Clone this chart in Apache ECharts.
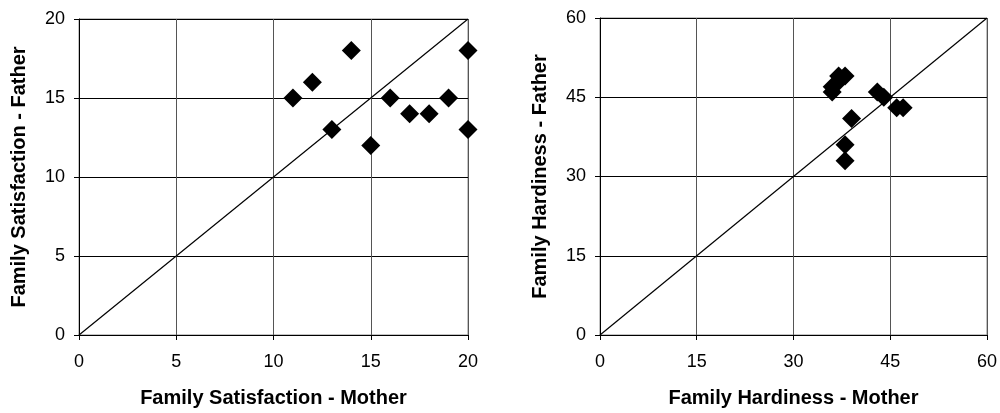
<!DOCTYPE html>
<html>
<head>
<meta charset="utf-8">
<script src="https://cdn.jsdelivr.net/npm/echarts@6/dist/echarts.min.js"></script>
<style>html,body{margin:0;padding:0;background:#fff}#c{width:1000px;height:413px}</style>
</head>
<body>
<div id="c"></div>
<script>
const satMother = [11, 12, 13, 14, 15, 16, 17, 18, 19, 20, 20];
const satFather = [15, 16, 13, 18, 12, 15, 14, 14, 15, 18, 13];
const hardMother = [36, 36, 37, 37, 38, 43, 44, 47, 46, 39, 38, 38];
const hardFather = [46, 47, 48, 49, 49, 46, 45, 43, 43, 41, 36, 33];
const satTicks = [0, 5, 10, 15, 20];
const hardTicks = [0, 15, 30, 45, 60];

const font = 'Liberation Sans, Arial, sans-serif';
function pairs(a, b) { return a.map((v, i) => [v, b[i]]); }

function xAxis(idx, max, interval, name) {
  return {
    gridIndex: idx, type: 'value', min: 0, max: max, interval: interval,
    name: name, nameLocation: 'middle', nameGap: 53,
    nameTextStyle: { fontFamily: font, fontSize: 20, fontWeight: 'bold', color: '#000' },
    axisLine: { show: true, lineStyle: { color: '#000', width: 1 } },
    axisTick: { show: true, inside: false, length: 5, lineStyle: { color: '#000' } },
    axisLabel: { fontFamily: font, fontSize: 18, color: '#000', margin: 18 },
    splitLine: { show: true, lineStyle: { color: '#555', width: 1 } }
  };
}
function yAxis(idx, max, interval, name) {
  return {
    gridIndex: idx, type: 'value', min: 0, max: max, interval: interval,
    name: name, nameLocation: 'middle', nameGap: 50, nameRotate: 90,
    nameTextStyle: { fontFamily: font, fontSize: 20, fontWeight: 'bold', color: '#000' },
    axisLine: { show: true, lineStyle: { color: '#000', width: 1 } },
    axisTick: { show: true, inside: false, length: 5, lineStyle: { color: '#000' } },
    axisLabel: { fontFamily: font, fontSize: 18, color: '#000', margin: 14 },
    splitLine: { show: true, lineStyle: { color: '#000', width: 1 } }
  };
}

const chart = echarts.init(document.getElementById('c'), null, { renderer: 'canvas' });
chart.setOption({
  animation: false,
  backgroundColor: '#fff',
  grid: [
    { left: 79, right: 532, top: 19, bottom: 76, show: true, borderColor: '#888', borderWidth: 1, backgroundColor: 'transparent' },
    { left: 600, right: 11, top: 18, bottom: 76, show: true, borderColor: '#888', borderWidth: 1, backgroundColor: 'transparent' }
  ],
  xAxis: [
    xAxis(0, 20, 5, 'Family Satisfaction - Mother'),
    xAxis(1, 60, 15, 'Family Hardiness - Mother')
  ],
  yAxis: [
    yAxis(0, 20, 5, 'Family Satisfaction - Father'),
    yAxis(1, 60, 15, 'Family Hardiness - Father')
  ],
  series: [
    { type: 'line', xAxisIndex: 0, yAxisIndex: 0, data: [[satTicks[0], satTicks[0]], [satTicks[4], satTicks[4]]],
      symbol: 'none', lineStyle: { color: '#000', width: 1.2 }, z: 2 },
    { type: 'line', xAxisIndex: 1, yAxisIndex: 1, data: [[hardTicks[0], hardTicks[0]], [hardTicks[4], hardTicks[4]]],
      symbol: 'none', lineStyle: { color: '#000', width: 1.2 }, z: 2 },
    { type: 'scatter', xAxisIndex: 0, yAxisIndex: 0, data: pairs(satMother, satFather),
      symbol: 'diamond', symbolSize: 19, itemStyle: { color: '#000', opacity: 1 }, z: 3 },
    { type: 'scatter', xAxisIndex: 1, yAxisIndex: 1, data: pairs(hardMother, hardFather),
      symbol: 'diamond', symbolSize: 19, itemStyle: { color: '#000', opacity: 1 }, z: 3 }
  ]
});
</script>
</body>
</html>
